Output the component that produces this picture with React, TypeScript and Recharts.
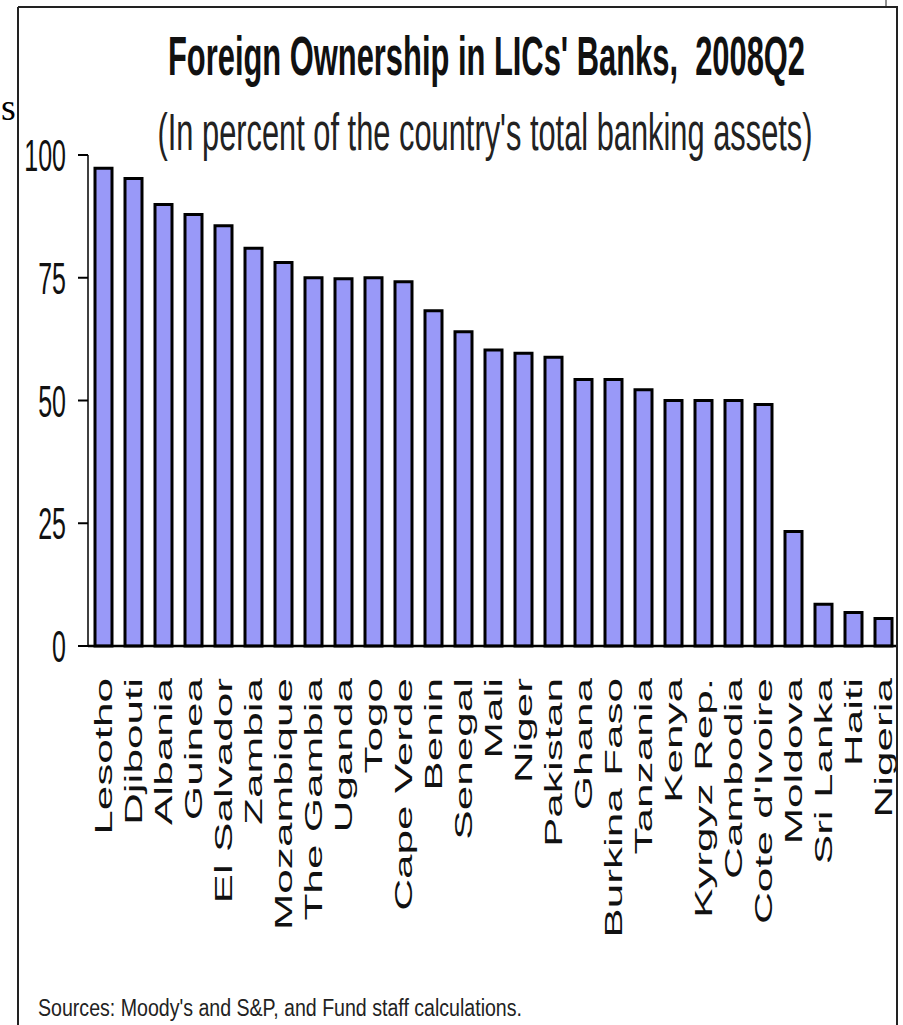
import React from "react";
import { BarChart, Bar, XAxis, YAxis } from "recharts";

// foreign-owned share of banking assets, 2008Q2
const countries = [
  "Lesotho",
  "Djibouti",
  "Albania",
  "Guinea",
  "El Salvador",
  "Zambia",
  "Mozambique",
  "The Gambia",
  "Uganda",
  "Togo",
  "Cape Verde",
  "Benin",
  "Senegal",
  "Mali",
  "Niger",
  "Pakistan",
  "Ghana",
  "Burkina Faso",
  "Tanzania",
  "Kenya",
  "Kyrgyz Rep.",
  "Cambodia",
  "Cote d'Ivoire",
  "Moldova",
  "Sri Lanka",
  "Haiti",
  "Nigeria",
];
const foreignShare = [
  97.3, 95.2, 89.9, 87.9, 85.6, 81.0, 78.1, 75.0, 74.8, 75.0, 74.2, 68.3, 64.0,
  60.3, 59.6, 58.8, 54.3, 54.3, 52.2, 50.0, 50.0, 50.0, 49.2, 23.3, 8.5, 6.8,
  5.6,
];
const yTicks = [0, 25, 50, 75, 100];

const chartData = countries.map((name, i) => ({ name, value: foreignShare[i] }));

// the source image is squashed sideways, so text is drawn tall
const STRETCH = 1.8;
const FONT = "'Liberation Sans', Arial, Helvetica, sans-serif";

const CountryTick = (props: any) => {
  const { x, y, payload } = props;
  return (
    <g transform={`translate(${x},${y}) scale(1,${STRETCH})`}>
      <text
        transform="rotate(-90)"
        textAnchor="end"
        dy="0.35em"
        fontSize={24.5}
        fontFamily={FONT}
        fill="#111"
      >
        {payload.value}
      </text>
    </g>
  );
};

const ValueTick = (props: any) => {
  const { x, y, payload } = props;
  return (
    <g transform={`translate(${x},${y}) scale(1,${STRETCH})`}>
      <text
        textAnchor="end"
        dy="0.36em"
        fontSize={25}
        fontFamily={FONT}
        fill="#111"
      >
        {payload.value}
      </text>
    </g>
  );
};

export default function App() {
  return (
    <div
      style={{
        position: "absolute",
        left: 0,
        top: 0,
        width: 903,
        height: 1025,
        background: "#fff",
        overflow: "hidden",
      }}
    >
      <BarChart
        width={903}
        height={1025}
        data={chartData}
        margin={{ top: 155, right: 5, bottom: 319, left: 8 }}
        barCategoryGap={0}
      >
        <XAxis
          dataKey="name"
          height={60}
          interval={0}
          tickLine={false}
          tickSize={0}
          tickMargin={32}
          axisLine={{ stroke: "#000", strokeWidth: 2.5 }}
          tick={<CountryTick />}
        />
        <YAxis
          width={80}
          domain={[0, 100]}
          ticks={yTicks}
          interval={0}
          tickSize={10}
          tickMargin={12}
          axisLine={{ stroke: "#000", strokeWidth: 1.5 }}
          tickLine={{ stroke: "#000", strokeWidth: 2 }}
          tick={<ValueTick />}
        />
        <Bar
          dataKey="value"
          fill="#9999f8"
          stroke="#000"
          strokeWidth={3}
          barSize={17}
          isAnimationActive={false}
        />
      </BarChart>

      <svg
        width={903}
        height={1025}
        style={{ position: "absolute", left: 0, top: 0, pointerEvents: "none" }}
      >
        {/* frame around the picture */}
        <line x1={18} y1={7} x2={898} y2={7} stroke="#222" strokeWidth={2} />
        <line x1={18} y1={7} x2={18} y2={1025} stroke="#222" strokeWidth={2} />
        <line x1={897} y1={7} x2={897} y2={1025} stroke="#222" strokeWidth={2} />
        <line x1={886} y1={0} x2={886} y2={7} stroke="#222" strokeWidth={1} />

        {/* leftover glyph from the page the image was cut from */}
        <text x={1} y={120} fontSize={38} fontFamily="'Liberation Serif', 'DejaVu Serif', serif" fill="#000">
          s
        </text>

        <text
          transform={`translate(486.5,75) scale(1,${STRETCH})`}
          textAnchor="middle"
          fontSize={31}
          fontWeight="bold"
          fontFamily={FONT}
          fill="#111"
          textLength={637}
          lengthAdjust="spacingAndGlyphs"
          style={{ whiteSpace: "pre" }}
        >
          {"Foreign Ownership in LICs' Banks,  2008Q2"}
        </text>
        <text
          transform={`translate(485,150) scale(1,${STRETCH})`}
          textAnchor="middle"
          fontSize={29}
          fontFamily={FONT}
          fill="#222"
          textLength={655}
          lengthAdjust="spacingAndGlyphs"
        >
          (In percent of the country's total banking assets)
        </text>
        <text
          transform={`translate(38,1016) scale(1,${STRETCH})`}
          fontSize={13.5}
          fontFamily={FONT}
          fill="#222"
          textLength={484}
          lengthAdjust="spacingAndGlyphs"
        >
          Sources: Moody's and S&amp;P, and Fund staff calculations.
        </text>
      </svg>
    </div>
  );
}
